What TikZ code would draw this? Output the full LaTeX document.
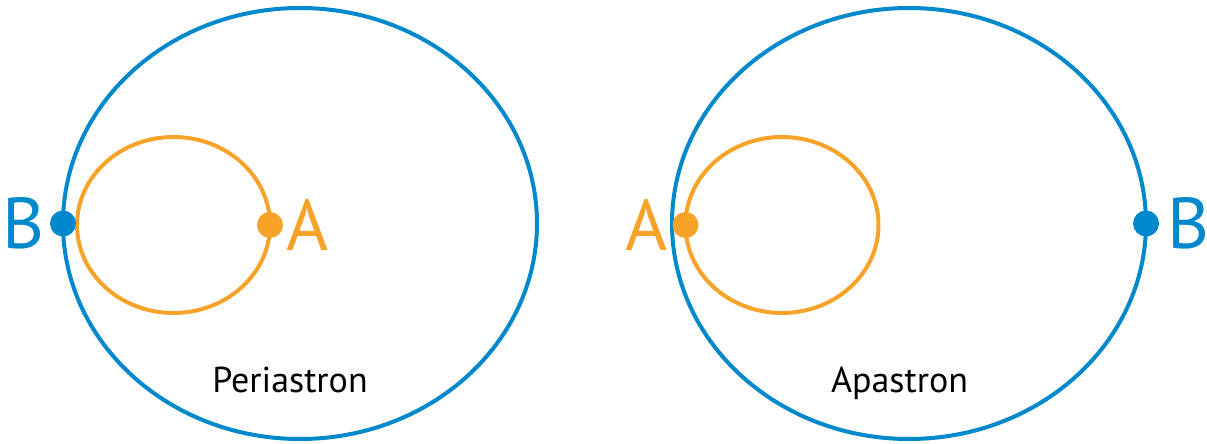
\documentclass[tikz,border=0pt]{standalone}
\usepackage{fontspec}
\setmainfont{PT Sans}
\usetikzlibrary{shapes.geometric, positioning}
\definecolor{orbitblue}{RGB}{0, 136, 204}
\definecolor{orbitorange}{RGB}{247, 163, 41}
\tikzset{
  bigorbit/.style={
    ellipse, draw=orbitblue, line width=2pt, inner sep=0pt, outer sep=0pt,
    minimum width=237pt, minimum height=215.5pt
  },
  smallorbit/.style={
    ellipse, draw=orbitorange, line width=2pt, inner sep=0pt, outer sep=0pt,
    minimum width=96.5pt, minimum height=88pt
  },
  stardot/.style={
    circle, inner sep=0pt, outer sep=0pt, minimum size=13pt
  },
  starlbl/.style={font=\fontsize{36}{40}\selectfont, inner sep=0pt},
  phaselbl/.style={font=\fontsize{18}{22}\selectfont, inner sep=0pt, anchor=base}
}
\begin{document}
\begin{tikzpicture}[x=0.5pt, y=-0.5pt]
  \useasboundingbox (0,0) rectangle (1207,444);

  %% ---- Left panel: periastron ----
  \node[bigorbit] (bigL) at (300,223.5) {};
  \node[smallorbit] (smallL) at (173.5,225) {};

  \node[stardot, fill=orbitblue] (bL) at (bigL.west) {};
  \node[stardot, fill=orbitorange] (aL) at (smallL.east) {};

  \node[starlbl, text=orbitblue, left=2.5pt of bL] (bLlbl) {B};
  \node[starlbl, text=orbitorange, right=1.5pt of aL] (aLlbl) {A};

  \node[phaselbl] (peri) at (290,393) {Periastron};

  %% ---- Right panel: apastron ----
  \node[bigorbit] (bigR) at (909,223.5) {};
  \node[smallorbit] (smallR) at (782,225) {};

  \node[stardot, fill=orbitorange] (aR) at (smallR.west) {};
  \node[stardot, fill=orbitblue] (bR) at (bigR.east) {};

  \node[starlbl, text=orbitorange, left=2pt of aR] (aRlbl) {A};
  \node[starlbl, text=orbitblue, right=4pt of bR] (bRlbl) {B};

  \node[phaselbl] (apa) at (899.5,393) {Apastron};

\end{tikzpicture}
\end{document}
